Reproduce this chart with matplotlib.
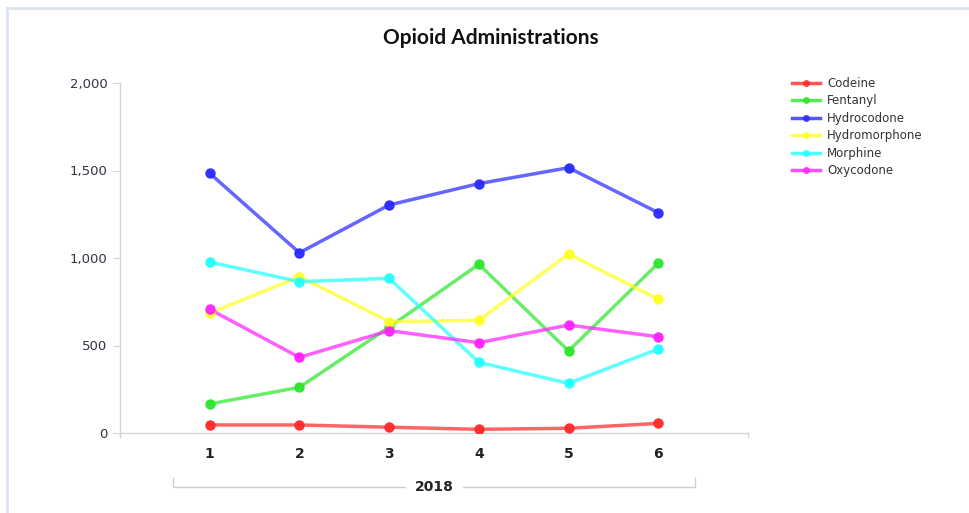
import matplotlib
matplotlib.use("Agg")
import matplotlib.pyplot as plt
from matplotlib.lines import Line2D

# Monthly opioid administrations, 2018
months = [1, 2, 3, 4, 5, 6]
year_label = "2018"
codeine = [46, 46, 33, 21, 27, 55]
fentanyl = [166, 261, 605, 964, 469, 970]
hydrocodone = [1484, 1030, 1303, 1425, 1516, 1259]
hydromorphone = [684, 893, 636, 644, 1023, 764]
morphine = [977, 865, 884, 404, 284, 480]
oxycodone = [707, 432, 585, 516, 617, 550]

series_names = ["Codeine", "Fentanyl", "Hydrocodone", "Hydromorphone", "Morphine", "Oxycodone"]
series_values = [codeine, fentanyl, hydrocodone, hydromorphone, morphine, oxycodone]
series_colors = ["#ff2a2a", "#2ee62e", "#2a2aff", "#ffff22", "#22ffff", "#ff22ff"]
y_ticks = [0, 500, 1000, 1500, 2000]

fig = plt.figure(figsize=(9.7, 5.13), dpi=100)
fig.patch.set_facecolor("white")

# light frame on the top and left edges of the chart panel
fig.add_artist(Line2D([7 / 970, 7 / 970], [0, 1 - 8 / 513], transform=fig.transFigure,
                      color="#dde4ef", lw=2.0))
fig.add_artist(Line2D([7 / 970, 1], [1 - 8 / 513, 1 - 8 / 513], transform=fig.transFigure,
                      color="#dde4ef", lw=2.0))

ax = fig.add_axes([120 / 970, 1 - 433 / 513, (748 - 120) / 970, (433 - 83) / 513])
ax.set_facecolor("white")

for name, vals, col in zip(series_names, series_values, series_colors):
    ax.plot(months, vals, color=col, lw=2.5, alpha=0.72, solid_capstyle="round",
            zorder=3)
    ax.plot(months, vals, linestyle="none", marker="o", ms=6.5, color=col,
            alpha=0.95, zorder=4, label=name)

ax.set_xlim(0, 7)
ax.set_ylim(0, 2000)
ax.set_yticks(y_ticks)
ax.set_yticklabels([f"{v:,}" for v in y_ticks], fontsize=9.5, color="#333344",
                   family="DejaVu Sans")
ax.set_xticks(months)
ax.set_xticklabels([str(m) for m in months], fontsize=10, fontweight="bold",
                   color="#222222", family="DejaVu Sans")

for side in ["top", "right"]:
    ax.spines[side].set_visible(False)
for side in ["left", "bottom"]:
    ax.spines[side].set_color("#d4d4d4")
    ax.spines[side].set_linewidth(1.0)
ax.tick_params(axis="y", length=5, color="#d4d4d4", pad=4)
ax.tick_params(axis="x", length=0, pad=10)
ax.grid(False)

# end ticks on the category axis
for xv in (0, 7):
    ax.plot([xv, xv], [0, -25], color="#d4d4d4", lw=1.0, clip_on=False)

# year group bracket under the month labels
trans = ax.get_xaxis_transform()
y_br = -0.154
ax.plot([0.59, 0.59, 3.18], [y_br + 0.026, y_br, y_br], color="#cfcfcf", lw=1.0,
        transform=trans, clip_on=False)
ax.plot([3.82, 6.41, 6.41], [y_br, y_br, y_br + 0.026], color="#cfcfcf", lw=1.0,
        transform=trans, clip_on=False)
ax.text(3.5, y_br, year_label, transform=trans, ha="center", va="center",
        fontsize=10, fontweight="bold", color="#222222", family="DejaVu Sans")

fig.text(491 / 970, 1 - 38 / 513, "Opioid Administrations", ha="center", va="center",
         fontsize=15, fontweight="bold", color="#111111", family="Lato")

handles = [Line2D([0], [0], color=c, lw=2.5, alpha=0.8, marker="o", ms=4,
                  markerfacecolor=c, markeredgecolor=c) for c in series_colors]
leg = fig.legend(handles, series_names, loc="upper left",
                 bbox_to_anchor=(787 / 970, 1 - 72 / 513), frameon=False,
                 fontsize=8.5, handlelength=2.4, handletextpad=0.6,
                 labelspacing=0.38, borderaxespad=0,
                 prop={"family": "DejaVu Sans", "size": 8.5})
for t in leg.get_texts():
    t.set_color("#333333")

fig.savefig("out.png", dpi=100, facecolor="white")
